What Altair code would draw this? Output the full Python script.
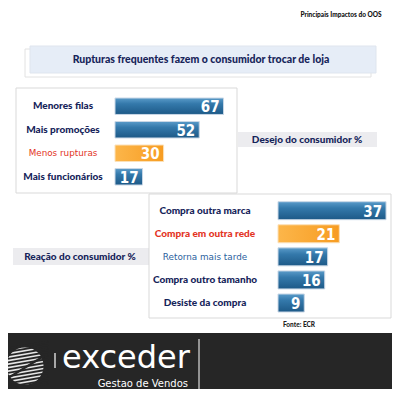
import json
import altair as alt
import pandas as pd

# ---------------- data ----------------
desire_cats = ["Menores filas", "Mais promoções", "Menos rupturas", "Mais funcionários"]
desire_vals = [67, 52, 30, 17]
reaction_cats = ["Compra outra marca", "Compra em outra rede", "Retorna mais tarde",
                 "Compra outro  tamanho", "Desiste da compra"]
reaction_vals = [37, 21, 17, 16, 9]
highlight = ["Menos rupturas", "Compra em outra rede"]
plain_labels = ["Menos rupturas", "Retorna mais tarde"]

title_text = "Rupturas frequentes fazem o consumidor trocar de loja"
corner_text = "Principais Impactos do OOS"
desire_title = "Desejo do consumidor %"
reaction_title = "Reação do consumidor %"
source_text = "Fonte: ECR"
brand_text = "exceder"
brand_sub = "Gestao de Vendos"

# ---------------- styles ----------------
O = 8  # page margin offset (reference px -> chart px)
W, H = 384, 381
NARROW = "Lato, DejaVu Sans Condensed, sans-serif"
HEAVY = 900
NAVY = "#16245a"
RED = "#e3341f"
BLUE_TXT = "#2b5f9e"
FOOT = "#262626"

blue_grad = alt.LinearGradient(
    gradient="linear", x1=0, x2=0, y1=0, y2=1,
    stops=[alt.GradientStop(color="#5a9bc9", offset=0),
           alt.GradientStop(color="#3479ab", offset=0.35),
           alt.GradientStop(color="#1d5987", offset=1)])
orange_grad = alt.LinearGradient(
    gradient="linear", x1=0, x2=1, y1=0, y2=0,
    stops=[alt.GradientStop(color="#fcb64a", offset=0),
           alt.GradientStop(color="#f79c22", offset=1)])

dummy = alt.Data(values=[{}])


def rect(x1, y1, x2, y2, **kw):
    return alt.Chart(dummy).mark_rect(**kw).encode(
        x=alt.value(x1 - O), x2=alt.value(x2 - O),
        y=alt.value(y1 - O), y2=alt.value(y2 - O))


def rule(x1, y1, x2, y2, **kw):
    return alt.Chart(dummy).mark_rule(**kw).encode(
        x=alt.value(x1 - O), x2=alt.value(x2 - O),
        y=alt.value(y1 - O), y2=alt.value(y2 - O))


def text(s, x, y, **kw):
    return alt.Chart(dummy).mark_text(text=s, **kw).encode(
        x=alt.value(x - O), y=alt.value(y - O))


def in_list(lst):
    return "indexof(%s, datum.cat) >= 0" % json.dumps(lst, ensure_ascii=False)


def not_in_list(lst):
    return "indexof(%s, datum.cat) < 0" % json.dumps(lst, ensure_ascii=False)


def panel(cats, vals, y0, y1, pad, x0, ppu, label_cx, plain_color):
    df = pd.DataFrame({"cat": cats, "val": vals})
    base = alt.Chart(df)
    y = alt.Y("cat:N", axis=None, sort=cats,
              scale=alt.Scale(domain=cats, range=[y0 - O, y1 - O],
                              paddingInner=pad, paddingOuter=0))
    x = alt.X("val:Q", axis=None,
              scale=alt.Scale(domain=[0, 100], range=[x0 - O, x0 - O + 100 * ppu]))
    blue = base.mark_bar(color=blue_grad, stroke="#c9d7e6", strokeWidth=1).encode(
        x=x, y=y).transform_filter(not_in_list(highlight))
    orange = base.mark_bar(color=orange_grad, stroke="#fbe0b8", strokeWidth=1).encode(
        x=x, y=y).transform_filter(in_list(highlight))
    labels = base.mark_text(align="center", baseline="middle", font=NARROW,
                            fontWeight=HEAVY, fontSize=10).encode(
        y=y, x=alt.value(label_cx - O), text="cat:N",
        color=alt.condition(in_list(highlight), alt.value(RED), alt.value(NAVY))
    ).transform_filter(not_in_list(plain_labels))
    labels_plain = base.mark_text(align="center", baseline="middle",
                                  font="DejaVu Sans", fontSize=8.8).encode(
        y=y, x=alt.value(label_cx - O), text="cat:N",
        color=alt.condition(in_list(highlight), alt.value(RED), alt.value(plain_color))
    ).transform_filter(in_list(plain_labels))
    values = base.mark_text(align="right", baseline="middle", dx=-4, dy=1,
                            color="white", font="DejaVu Sans Condensed", fontWeight="bold",
                            fontSize=15).encode(x=x, y=y, text="val:Q")
    return alt.layer(blue, orange, labels, labels_plain, values)


# striped logo: light disc crossed by dark stripes (invisible on dark footer)
logo = [alt.Chart(dummy).mark_circle(size=1380, color="#e6e6e6", opacity=1).encode(
    x=alt.value(25 - O), y=alt.value(366 - O))]
for i in range(13):
    yc = 345.5 + 3.5 * i
    logo.append(rule(2, yc + 4, 48, yc - 4, color=FOOT, strokeWidth=1.8))
logo.append(rule(8, 378, 44, 356, color=FOOT, strokeWidth=2.2))

layers_top = [
    text(corner_text, 341, 15, font=NARROW, fontWeight=HEAVY, fontSize=6.5,
         color="#111111", align="center", baseline="middle"),
    rect(25, 49, 371, 77, fill="#ffffff", stroke="#e2e2e2", strokeWidth=1),
    rect(30, 46, 376, 73, fill="#e6edf7", stroke="#dfe5ee", strokeWidth=1),
    text(title_text, 201, 60, font=NARROW, fontWeight=HEAVY, fontSize=10.5,
         color=NAVY, align="center", baseline="middle"),
    rect(16, 88, 237, 193, fill="#ffffff", stroke="#d9d9d9", strokeWidth=1),
    rect(238, 132, 377, 147, fill="#ececef"),
    text(desire_title, 307, 139.5, font=NARROW, fontWeight=HEAVY, fontSize=10,
         color=NAVY, align="center", baseline="middle"),
    rect(13, 248, 149, 265, fill="#ececef"),
    text(reaction_title, 80, 256.5, font=NARROW, fontWeight=HEAVY, fontSize=10,
         color=NAVY, align="center", baseline="middle"),
]
layers_mid = [
    rect(149, 194, 391, 318, fill="#ffffff", stroke="#d9d9d9", strokeWidth=1),
]
layers_bottom = [
    text(source_text, 299, 325, font=NARROW, fontWeight=HEAVY, fontSize=6.5,
         color="#222222", align="center", baseline="middle"),
    rect(0, 333, 400, 400, fill=FOOT),
    *logo,
    rule(55, 353, 55, 368, color="#ffffff", strokeWidth=1.2),
    text(brand_text, 62, 368, font="DejaVu Sans", fontSize=32, color="#ffffff",
         align="left", baseline="alphabetic"),
    text(brand_sub, 188, 387, font="DejaVu Sans", fontSize=10, color="#ffffff",
         align="right", baseline="alphabetic"),
    rule(199, 339, 199, 393, color="#ffffff", strokeWidth=1),
]

p1 = panel(desire_cats, desire_vals, 98, 185, 0.3, 115, 1.62, 63, NAVY)
p2 = panel(reaction_cats, reaction_vals, 201.7, 312, 0.22, 278, 2.92, 205, BLUE_TXT)

chart = alt.layer(*layers_top, p1, *layers_mid, p2, *layers_bottom).resolve_scale(
    x="independent", y="independent", color="independent"
).properties(
    width=W, height=H, padding=0, autosize=alt.AutoSizeParams(type="none"),
    background="#ffffff"
).configure_view(strokeWidth=0)

chart.save("out.html", embed_options={"renderer": "svg", "actions": False})
